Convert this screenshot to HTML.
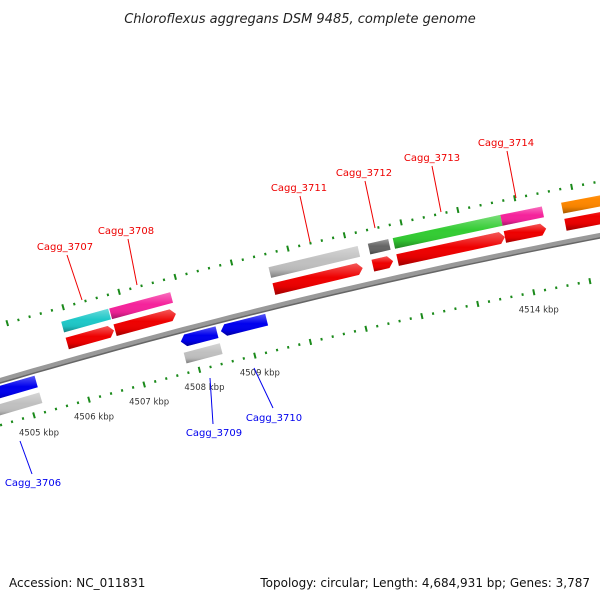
<!DOCTYPE html>
<html><head><meta charset="utf-8">
<style>
html,body{margin:0;padding:0;background:#fff;}
svg{display:block;}
text{font-family:"DejaVu Sans","Liberation Sans",sans-serif;}
</style></head>
<body>
<svg id="chart" width="600" height="600" viewBox="0 0 600 600" xmlns="http://www.w3.org/2000/svg">
<defs>
<linearGradient id="shade" x1="0" y1="0" x2="0" y2="1">
<stop offset="0" stop-color="#fff" stop-opacity="0.35"/>
<stop offset="0.45" stop-color="#fff" stop-opacity="0"/>
<stop offset="0.75" stop-color="#000" stop-opacity="0.05"/>
<stop offset="1" stop-color="#000" stop-opacity="0.35"/>
</linearGradient>
</defs>
<text x="300" y="23" text-anchor="middle" font-size="13" font-style="italic" fill="#222">Chloroflexus aggregans DSM 9485, complete genome</text>
<g id="ring"></g>
<g id="genes"></g>
<g id="labels"></g>
<text x="9" y="587" font-size="12" fill="#111">Accession: NC_011831</text>
<text x="590" y="587" text-anchor="end" font-size="12" fill="#111">Topology: circular; Length: 4,684,931 bp; Genes: 3,787</text>
</svg>
<script>
// data
const geneNames = ["Cagg_3706","Cagg_3707","Cagg_3708","Cagg_3709","Cagg_3710","Cagg_3711","Cagg_3712","Cagg_3713","Cagg_3714","Cagg_3715"];
const geneStart = [4504.3,4505.9,4506.76,4507.81,4508.53,4509.6,4511.36,4511.8,4513.7,4514.77];
const geneEnd   = [4505.2,4506.74,4507.85,4508.46,4509.35,4511.18,4511.72,4513.7,4514.43,4516.2];
const geneStrand = [-1,1,1,-1,-1,1,1,1,1,1];
const cogColor = ["#c0c0c0","#1fc8c8","#f5239b","#c0c0c0","","#c0c0c0","#666666","#33cc33","#f5239b","#ff8800"];
const tickLabels = ["4505 kbp","4506 kbp","4507 kbp","4508 kbp","4509 kbp","4510 kbp","4511 kbp","4512 kbp","4513 kbp","4514 kbp"];
const tickKbp = [4505,4506,4507,4508,4509,4510,4511,4512,4513,4514];
const showLabel = [true,true,true,true,true,false,false,false,false,true];

// geometry (circular scale)
const CX=1789, CY=6467, R0=6344;
const phiRef=Math.atan2(374-CY,22-CX), kRef=4505, arcPerKbp=57.6;
function ang(k){return phiRef+(k-kRef)*arcPerKbp/R0;}
function pt(k,o){const a=ang(k),r=R0-o;return [CX+r*Math.cos(a),CY+r*Math.sin(a)];}
const NS="http://www.w3.org/2000/svg";
function mk(tag,attrs,parent){const e=document.createElementNS(NS,tag);for(const k in attrs)e.setAttribute(k,attrs[k]);parent.appendChild(e);return e;}
const ring=document.getElementById('ring'), genes=document.getElementById('genes'), labels=document.getElementById('labels');

function arcPath(k0,k1,o){let d="";for(let i=0;i<=40;i++){const p=pt(k0+(k1-k0)*i/40,o);d+=(i?"L":"M")+p[0].toFixed(1)+" "+p[1].toFixed(1);}return d;}
// backbone
let bb=mk('path',{d:arcPath(4504,4516,0),stroke:"#999",'stroke-width':5,fill:"none"},ring);


let bb2=mk('path',{d:arcPath(4504,4516,2.5),stroke:"#666",'stroke-width':1.5,fill:"none"},ring);



// ticks
function drawTicks(o,shift,name){
  for(let t=0;t<=70;t++){
    const k=4503.8+t*0.2; const major=(Math.round((k-4500)*5)%5===0);
    const len=major?6:2.5;
    const a=pt(k+shift,o-len/2), b=pt(k+shift,o+len/2);
    const l=mk('line',{x1:a[0],y1:a[1],x2:b[0],y2:b[1],stroke:"#1a8a1a",'stroke-width':2},ring);
    
    
  }
}
drawTicks(43,0,'inner-tick');
drawTicks(-53,0,'outer-tick');
tickKbp.forEach((k,i)=>{
  if(!showLabel[i])return;
  const p=pt(k,43);
  const t=mk('text',{x:p[0]+5,y:p[1]+20,'text-anchor':'middle','font-size':8.5,fill:"#333"},labels);
  t.textContent=tickLabels[i];
  
  
});

// gene shape
function shape(k0,k1,oc,h,dir,fill,name){
  const hl=Math.min(5/arcPerKbp,(k1-k0)*0.5);
  let pts=[];
  const top=oc-h/2, bot=oc+h/2;
  if(dir===1){pts=[pt(k0,top),pt(k1-hl,top),pt(k1,oc),pt(k1-hl,bot),pt(k0,bot)];}
  else if(dir===-1){pts=[pt(k0+hl,top),pt(k1,top),pt(k1,bot),pt(k0+hl,bot),pt(k0,oc)];}
  else{pts=[pt(k0,top),pt(k1,top),pt(k1,bot),pt(k0,bot)];}
  const s=pts.map(p=>p[0].toFixed(1)+","+p[1].toFixed(1)).join(" ");
  const g=mk('g',{},genes);
  
  
  mk('polygon',{points:s,fill:fill},g);
  mk('polygon',{points:s,fill:"url(#shade)"},g);
}
for(let i=0;i<geneNames.length;i++){
  const fw=geneStrand[i]===1;
  if(fw){
    shape(geneStart[i],geneEnd[i],-17,12,1,"#ee0000",'gene-'+geneNames[i].toLowerCase().replace('_','-'));
    if(cogColor[i])shape(geneStart[i],geneEnd[i],-34,11,0,cogColor[i],'cog-'+geneNames[i].toLowerCase().replace('_','-'));
  }else{
    shape(geneStart[i],geneEnd[i],11,12,-1,"#0000ee",'gene-'+geneNames[i].toLowerCase().replace('_','-'));
    if(cogColor[i])shape(geneStart[i],geneEnd[i],28,11,0,cogColor[i],'cog-'+geneNames[i].toLowerCase().replace('_','-'));
  }
}

// gene labels (annotation layout)
const labelText=["Cagg_3707","Cagg_3708","Cagg_3711","Cagg_3712","Cagg_3713","Cagg_3714","Cagg_3709","Cagg_3710","Cagg_3706"];
const labelPos=[[65,250,67,255,82,300,"#e00"],[126,234,128,239,137,285,"#e00"],[299,191,300,196,310,242,"#e00"],[364,176,365,181,375,228,"#e00"],[432,161,432,166,441,212,"#e00"],[506,146,507,151,516,198,"#e00"],[214,436,210,378,213,424,"#00e"],[274,421,254,368,273,408,"#00e"],[33,486,20,441,32,474,"#00e"]];
labelText.forEach((t,i)=>{
  const p=labelPos[i];
  const l=mk('line',{x1:p[2],y1:p[3],x2:p[4],y2:p[5],stroke:p[6],'stroke-width':1},labels);
  
  
  const e=mk('text',{x:p[0],y:p[1],'text-anchor':'middle','font-size':10,fill:p[6]},labels);
  e.textContent=t;
  
  
});
</script>
</body></html>
